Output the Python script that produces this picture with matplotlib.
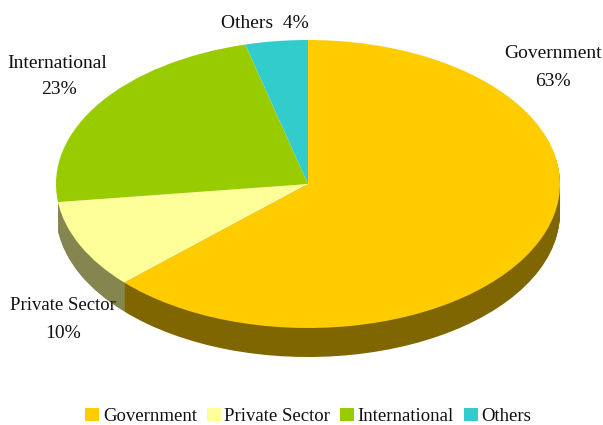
import matplotlib
matplotlib.use("Agg")
from matplotlib import pyplot as plt

categories = ["Government", "Private Sector", "International", "Others"]
shares = [63, 10, 23, 4]
top_colors = ["#FFCC00", "#FFFF99", "#99CC00", "#33CCCC"]
# only the two front slices show a side wall
side_colors = ["#806600", "#85854F", "none", "none"]

W, H = 603, 425
CX, CY = 308, 184  # pie centre, px
RX, RY = 252, 144  # pie radii, px
DEPTH = 29  # height of the side wall, px

plt.rcParams["font.family"] = ["Liberation Serif", "DejaVu Serif"]
plt.rcParams["font.size"] = 14

fig = plt.figure(figsize=(W / 100, H / 100), dpi=100)
ax = fig.add_axes([0, 0, 1, 1])

# the 3D look: same pie stacked downwards in the darker colours
for d in range(DEPTH, 0, -1):
    ax.pie(
        shares,
        colors=side_colors,
        startangle=90,
        counterclock=False,
        center=(0, -d / RY),
        radius=1,
    )
wedges, _ = ax.pie(
    shares,
    colors=top_colors,
    startangle=90,
    counterclock=False,
    center=(0, 0),
    radius=1,
)

# squash the circle into an ellipse
ax.set_aspect("auto")
ax.set_xlim(-CX / RX, (W - CX) / RX)
ax.set_ylim((CY - H) / RY, CY / RY)
ax.axis("off")


def label(x, y, s, size=14):
    fig.text(x / W, 1 - y / H, s, ha="center", va="center", color="#111111", size=size)


label(553, 54, "Government")
label(553, 82, "63%")
label(57, 64, "International")
label(59, 90, "23%")
label(265, 24, "Others  4%")
label(63, 306, "Private Sector", size=13.5)
label(63, 334, "10%")

fig.legend(
    wedges,
    categories,
    loc="lower left",
    bbox_to_anchor=(85 / W, 0),
    ncols=4,
    frameon=False,
    fontsize=13.5,
    borderpad=0,
    borderaxespad=0,
    handlelength=0.75,
    handleheight=0.75,
    handletextpad=0.2,
    columnspacing=0.52,
    labelcolor="#111111",
)

fig.savefig("out.png", dpi=100)
